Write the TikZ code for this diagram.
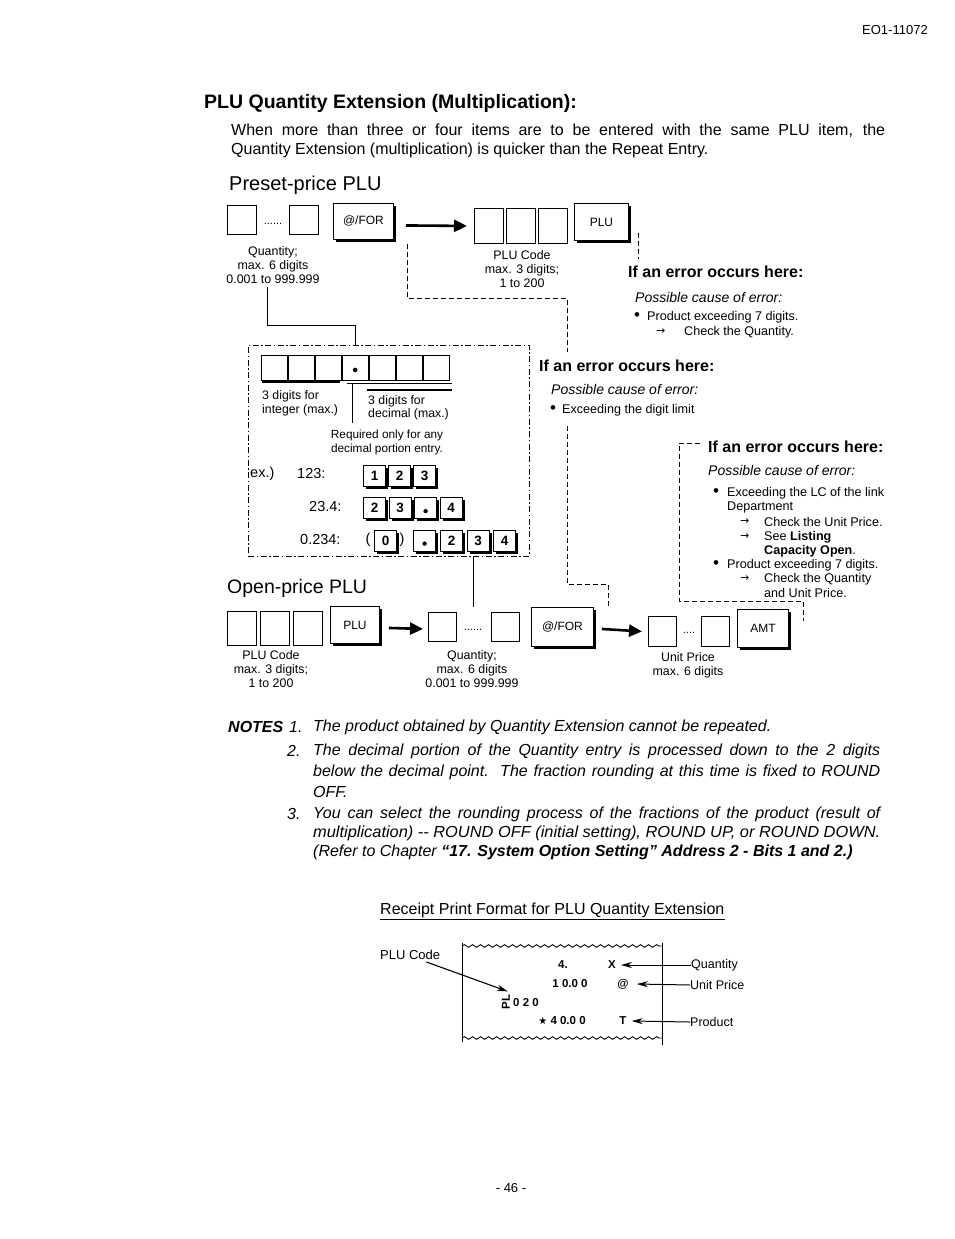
\documentclass[tikz,border=0pt]{standalone}
\usepackage{fontspec}
\usepackage{graphicx}
\setmainfont{Liberation Sans}
\newfontfamily\djv{DejaVu Sans}
\usetikzlibrary{arrows.meta,calc,decorations.pathmorphing}
\newcommand\kshade[2][3]{\draw[line width=#1pt] ($(#2.north east)+(0.8,3)$) -- ($(#2.south east)+(0.8,0.8)$) -- ($(#2.south west)+(3,0.8)$);}
\newcommand\fsz[2]{\fontsize{#1}{#2}\selectfont}
\newcommand\rarw{{\djv\fsz{11}{13}→}}
\begin{document}
\begin{tikzpicture}[x=1pt,y=-1pt,
  every node/.style={inner sep=0pt},
  lt/.style={anchor=west, font=\fsz{12.3}{14}},
  ctxt/.style={align=center, font=\fsz{12.4}{14.2}},
  bx/.style={draw, line width=0.9pt, anchor=north west},
  kbx/.style={draw, line width=0.9pt, anchor=north west, font=\fsz{12}{14}},
  ekey/.style={draw, line width=1.2pt, anchor=north west, minimum width=22pt, minimum height=21pt, font=\fsz{13.5}{15}\bfseries},
  dsh/.style={line width=0.9pt, dash pattern=on 5pt off 3pt},
  ddl/.style={line width=0.9pt, dash pattern=on 6pt off 2.5pt on 1.5pt off 2.5pt},
  conn/.style={line width=1pt},
  bigarr/.style={line width=2.6pt, -{Triangle[length=13pt,width=12pt]}},
  rarr/.style={line width=1pt, -{Stealth[length=11pt,width=6pt]}},
  eh/.style={anchor=west, font=\fsz{16}{18}\bfseries},
  ei/.style={anchor=west, font=\fsz{14}{16}\itshape},
  es/.style={anchor=west, font=\fsz{12.6}{14}},
  bul/.style={anchor=west, font=\fsz{17}{14}},
  nt/.style={anchor=west, font=\fsz{16}{19}\itshape},
  rc/.style={font=\fsz{11.5}{13}\bfseries}
]
\path[fill=white, use as bounding box] (0,0) rectangle (954,1239);

% ---------- header ----------
\node[anchor=west, font=\fsz{13}{15}] (docid) at (862,30) {EO1-11072};
\node[anchor=west, font=\fsz{19.5}{22}\bfseries] (title) at (204,103) {PLU Quantity Extension (Multiplication):};
\node[anchor=west, font=\fsz{16}{19}] (p1) at (231,131) {\makebox[654pt][s]{When more than three or four items are to be entered with the same PLU item, the}};
\node[anchor=west, font=\fsz{16}{19}] (p2) at (231,150) {Quantity Extension (multiplication) is quicker than the Repeat Entry.};
\node[anchor=west, font=\fsz{20}{23}] (h1) at (229,185) {Preset-price PLU};

% ---------- preset row ----------
\node[bx, minimum width=29pt, minimum height=29pt] (qa) at (227,205) {};
\node[font=\fsz{11}{13}] (qd) at (273,224) {......};
\node[bx, minimum width=29pt, minimum height=29pt] (qb) at (289,205) {};
\node[kbx, minimum width=60pt, minimum height=36pt] (kfor) at (333,203) {@/FOR};
\kshade{kfor}
\node[bx, minimum width=29pt, minimum height=35pt] (pa) at (474,208) {};
\node[bx, minimum width=29pt, minimum height=35pt] (pb) at (506,208) {};
\node[bx, minimum width=29pt, minimum height=35pt] (pc) at (538,208) {};
\node[kbx, minimum width=54pt, minimum height=37pt] (kplu) at (574,203) {PLU};
\kshade{kplu}
\draw[bigarr] ([xshift=12pt,yshift=-4pt]kfor.east) -- ([xshift=-7pt]pa.west);

\node[ctxt] (qlab) at (273,265) {Quantity;\\max. 6 digits\\0.001 to 999.999};
\node[ctxt] (plab) at (522,269) {PLU Code\\max. 3 digits;\\1 to 200};

% connectors from preset row
\coordinate (s1a) at (267,287);
\coordinate (ddtop) at (355,345);
\draw[conn] (s1a) |- (355,325) -- (ddtop);
\coordinate (d1a) at (407,244);
\coordinate (d1b) at (567,352);
\draw[dsh] (d1a) -- (407,298) -| (d1b);
\coordinate (d2a) at (638,233);
\coordinate (d2b) at (638,259);
\draw[dsh] (d2a) -- (d2b);

% error block 1
\node[eh] (e1h) at (628,272) {If an error occurs here:};
\node[ei] (e1c) at (635,297) {Possible cause of error:};
\node[bul] (e1b) at (634,317) {•};
\node[es] (e1t) at (647,317) {Product exceeding 7 digits.};
\node[es] (e1a) at (656,332) {\rarw};
\node[es] (e1u) at (684,332) {Check the Quantity.};

% ---------- dash-dot box ----------
\node[draw, ddl, anchor=north west, minimum width=281pt, minimum height=211pt] (ddbox) at (248,345) {};
\foreach \i in {0,...,6} {
  \node[bx, minimum width=25.5pt, minimum height=25pt] (dg\i) at ({261+27*\i},355) {};
}
\fill ($(dg3.center)+(0,2)$) circle (2.3);
\draw[line width=1.2pt] (262,382) -- (340,382);
\draw[line width=1pt] (347,383) -- (452,383);
\draw[line width=1.2pt] (367,390) -- (452,390);
\draw[line width=1pt] (352,383) -- (352,423);
\node[lt] (ti1) at (262,396) {3 digits for};
\node[lt] (ti2) at (262,410) {integer (max.)};
\node[lt] (td1) at (368,401) {3 digits for};
\node[lt] (td2) at (368,414) {decimal (max.)};
\node[ctxt, font=\fsz{11.8}{14}] (treq) at (387,442) {Required only for any\\decimal portion entry.};

\node[anchor=west, font=\fsz{14.5}{16}] (exl) at (250,474) {ex.)};
\node[anchor=west, font=\fsz{14.5}{16}] (ex1) at (297,474) {123:};
\node[ekey] (k11) at (363,465) {1}; \kshade[2]{k11}
\node[ekey] (k12) at (388,465) {2}; \kshade[2]{k12}
\node[ekey] (k13) at (413,465) {3}; \kshade[2]{k13}
\node[anchor=west, font=\fsz{14.5}{16}] (ex2) at (309,507) {23.4:};
\node[ekey] (k21) at (363,497) {2}; \kshade[2]{k21}
\node[ekey] (k22) at (388.5,497) {3}; \kshade[2]{k22}
\node[ekey] (k23) at (414,497) {}; \kshade[2]{k23}
\fill ($(k23.center)+(0,3)$) circle (2.2);
\node[ekey] (k24) at (439.5,497) {4}; \kshade[2]{k24}
\node[anchor=west, font=\fsz{14.5}{16}] (ex3) at (300,540) {0.234:};
\node[font=\fsz{14.5}{16}] (lp) at (368,540) {(};
\node[ekey] (k31) at (374,529.5) {0}; \kshade[2]{k31}
\node[font=\fsz{14.5}{16}] (rp) at (402,540) {)};
\node[ekey] (k32) at (413,529.5) {}; \kshade[2]{k32}
\fill ($(k32.center)+(0,3)$) circle (2.2);
\node[ekey] (k33) at (440,529.5) {2}; \kshade[2]{k33}
\node[ekey] (k34) at (466.5,529.5) {3}; \kshade[2]{k34}
\node[ekey] (k35) at (493,529.5) {4}; \kshade[2]{k35}

\coordinate (s2a) at (473,556);
\coordinate (s2b) at (473,607);
\draw[conn] (s2a) -- (s2b);

% error block 2
\node[eh] (e2h) at (539,366) {If an error occurs here:};
\node[ei] (e2c) at (551,389) {Possible cause of error:};
\node[bul] (e2b) at (550,410) {•};
\node[es] (e2t) at (562,410) {Exceeding the digit limit};
\coordinate (d3a) at (567,426);
\coordinate (d3b) at (608,608);
\draw[dsh] (d3a) |- (608,584) -- (d3b);

% error block 3
\coordinate (d4a) at (700,443);
\coordinate (d4b) at (803,621);
\draw[dsh] (d4a) -- (679,443) -- (679,601) -| (d4b);
\node[eh] (e3h) at (708,447) {If an error occurs here:};
\node[ei] (e3c) at (708,470) {Possible cause of error:};
\node[bul] (e3b1) at (713,493) {•};
\node[es] (e3t1) at (727,493) {Exceeding the LC of the link};
\node[es] (e3t2) at (727,507) {Department};
\node[es] (e3a1) at (740,522) {\rarw};
\node[es] (e3t3) at (764,522) {Check the Unit Price.};
\node[es] (e3a2) at (740,537) {\rarw};
\node[es] (e3t4) at (764,537) {See \textbf{Listing}};
\node[es] (e3t5) at (764,551) {\textbf{Capacity Open}.};
\node[bul] (e3b2) at (713,565) {•};
\node[es] (e3t6) at (727,565) {Product exceeding 7 digits.};
\node[es] (e3a3) at (740,579) {\rarw};
\node[es] (e3t7) at (764,579) {Check the Quantity};
\node[es] (e3t8) at (764,593) {and Unit Price.};

% ---------- open-price row ----------
\node[anchor=west, font=\fsz{19.5}{22}] (h2) at (227,588) {Open-price PLU};
\node[bx, minimum width=29pt, minimum height=34pt] (oa) at (227,611) {};
\node[bx, minimum width=29pt, minimum height=34pt] (ob) at (260,611) {};
\node[bx, minimum width=29pt, minimum height=34pt] (oc) at (293,611) {};
\node[kbx, minimum width=49pt, minimum height=37pt] (kplu2) at (330,606) {PLU};
\kshade{kplu2}
\node[bx, minimum width=28pt, minimum height=29pt] (oqa) at (428,612) {};
\node[font=\fsz{11}{13}] (oqd) at (473,630) {......};
\node[bx, minimum width=28pt, minimum height=29pt] (oqb) at (491,612) {};
\node[kbx, minimum width=62pt, minimum height=39pt] (kfor2) at (531,607) {@/FOR};
\kshade{kfor2}
\node[bx, minimum width=28pt, minimum height=30pt] (ua) at (648,616) {};
\node[font=\fsz{11}{13}] (ud) at (689,633) {....};
\node[bx, minimum width=28pt, minimum height=30pt] (ub) at (701,616) {};
\node[kbx, minimum width=51pt, minimum height=38pt] (kamt) at (737,609) {AMT};
\kshade{kamt}
\draw[bigarr] ([xshift=9pt,yshift=-3pt]kplu2.east) -- ([xshift=-5pt,yshift=-2pt]oqa.west);
\draw[bigarr] ([xshift=8pt,yshift=-2pt]kfor2.east) -- ([xshift=-6pt]ua.west);

\node[ctxt] (olab1) at (271,669) {PLU Code\\max. 3 digits;\\1 to 200};
\node[ctxt] (olab2) at (472,669) {Quantity;\\max. 6 digits\\0.001 to 999.999};
\node[ctxt] (olab3) at (688,665) {Unit Price\\max. 6 digits};

% ---------- notes ----------
\node[anchor=west, font=\fsz{16}{19}\bfseries\itshape] (nl) at (228,727) {NOTES};
\node[nt] (n1n) at (289,727) {1.};
\node[nt] (n1) at (313,727) {The product obtained by Quantity Extension cannot be repeated.};
\node[nt] (n2n) at (287,751) {2.};
\node[nt] (n2a) at (313,751) {\makebox[567pt][s]{The decimal portion of the Quantity entry is processed down to the 2 digits}};
\node[nt] (n2b) at (313,772) {\makebox[567pt][s]{below the decimal point.\ \ The fraction rounding at this time is fixed to ROUND}};
\node[nt] (n2c) at (313,792) {OFF.};
\node[nt] (n3n) at (287,814) {3.};
\node[nt] (n3a) at (313,814) {\makebox[567pt][s]{You can select the rounding process of the fractions of the product (result of}};
\node[nt] (n3b) at (313,833) {\resizebox{567pt}{\height}{multiplication) -{}- ROUND OFF (initial setting), ROUND UP, or ROUND DOWN.}};
\node[nt] (n3c) at (313,852) {(Refer to Chapter \textbf{“17. System Option Setting” Address 2 - Bits 1 and 2.)}};

% ---------- receipt ----------
\node[anchor=west, font=\fsz{16}{19}] (rh) at (380,910) {Receipt Print Format for PLU Quantity Extension};
\draw[line width=0.9pt] ([yshift=-2pt]rh.south west) -- ([yshift=-2pt]rh.south east);
\coordinate (rtl) at (462,943);
\coordinate (rtr) at (662,943);
\coordinate (rbl) at (462,1042);
\coordinate (rbr) at (662,1045);
\draw[line width=1pt] (rtl) -- (rbl);
\draw[line width=1pt] (rtr) -- (rbr);
\draw[line width=0.9pt, decorate, decoration={snake, amplitude=1.3pt, segment length=8pt}] (462,946) -- (662,946);
\draw[line width=0.9pt, decorate, decoration={snake, amplitude=1.3pt, segment length=8pt}] (462,1038) -- (662,1038);

\node[anchor=west, font=\fsz{13}{15}] (rplu) at (380,955) {PLU Code};
\node[rc] (r4) at (563,965) {4.};
\node[rc] (rx) at (612,965) {X};
\node[rc] (r10) at (570,984) {1 0.0 0};
\node[rc] (rat) at (623,984) {@};
\node[rc, rotate=90] (rpl) at (506,1002) {PL};
\node[rc, anchor=west] (r020) at (513,1003) {0 2 0};
\node[rc] (r40) at (562,1021) {{\djv\fsz{10}{12}★} 4 0.0 0};
\node[rc] (rt) at (623,1021) {T};
\node[anchor=west, font=\fsz{12.5}{14}] (rq) at (691,965) {Quantity};
\node[anchor=west, font=\fsz{12.5}{14}] (ru) at (690,985) {Unit Price};
\node[anchor=west, font=\fsz{12.5}{14}] (rpr) at (690,1022) {Product};
\draw[line width=1.1pt, -{Stealth[length=11pt,width=6pt]}] ([xshift=-14pt,yshift=-2pt]rplu.south east) -- ([xshift=6pt,yshift=3pt]rpl.north east);
\draw[rarr] (rq.west) -- ([xshift=5pt]rx.east);
\draw[rarr] (ru.west) -- ([xshift=8pt]rat.east);
\draw[rarr] (rpr.west) -- ([xshift=5pt]rt.east);

% ---------- page number ----------
\node[font=\fsz{13}{15}] (pg) at (511,1188) {- 46 -};
\end{tikzpicture}
\end{document}
